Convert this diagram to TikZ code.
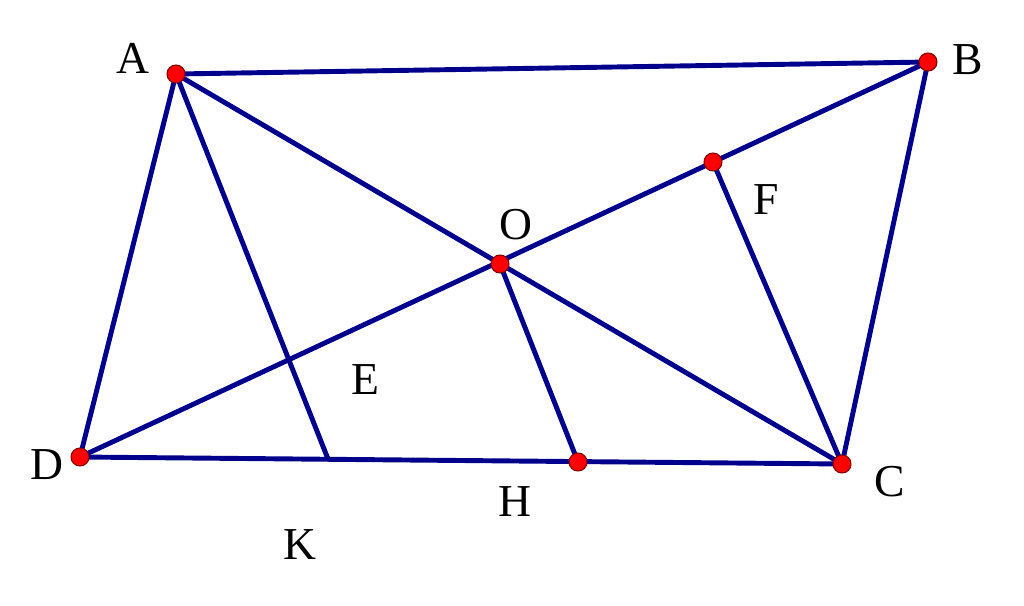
\documentclass[tikz,border=0pt]{standalone}
\usepackage{fontspec}
\setmainfont{Liberation Serif}
\usetikzlibrary{positioning}
\tikzset{
  seg/.style   = {draw=blue!55!black, line width=2.8pt, line cap=round},
  dot/.style   = {circle, fill=red, draw=red!50!black, line width=0.6pt,
                  inner sep=0pt, minimum size=0.36cm},
  lbl/.style   = {font=\fontsize{26}{30}\selectfont, inner sep=0pt}
}

\begin{document}
\begin{tikzpicture}[x=0.02cm, y=-0.02cm]
\useasboundingbox (0,0) rectangle (1024,605);

% vertices of the quadrilateral
\coordinate (A) at (176,74);
\coordinate (B) at (928,62);
\coordinate (C) at (842,464);
\coordinate (D) at (80,457);
% inner points
\coordinate (O) at (500,264);
\coordinate (F) at (713,162);
\coordinate (H) at (578,462);
\coordinate (K) at (328,459);

% sides and diagonals
\draw[seg] (A) -- (B) -- (C) -- (D) -- cycle;
\draw[seg] (A) -- (C);
\draw[seg] (B) -- (D);
% extra segments
\draw[seg] (A) -- (K);
\draw[seg] (O) -- (H);
\draw[seg] (F) -- (C);

% the marked points
\foreach \p in {A,B,C,D,O,F,H}
  \node[dot] at (\p) {};

% labels
\node[lbl] (lA) at (133,58) {A};
\node[lbl] (lB) at (968,60) {B};
\node[lbl] (lC) at (890,482) {C};
\node[lbl] (lD) at (47,465) {D};
\node[lbl] (lO) at (516,225) {O};
\node[lbl] (lF) at (766,200) {F};
\node[lbl] (lE) at (365,380) {E};
\node[lbl] (lH) at (515,502) {H};
\node[lbl] (lK) at (300,545) {K};

\end{tikzpicture}
\end{document}
